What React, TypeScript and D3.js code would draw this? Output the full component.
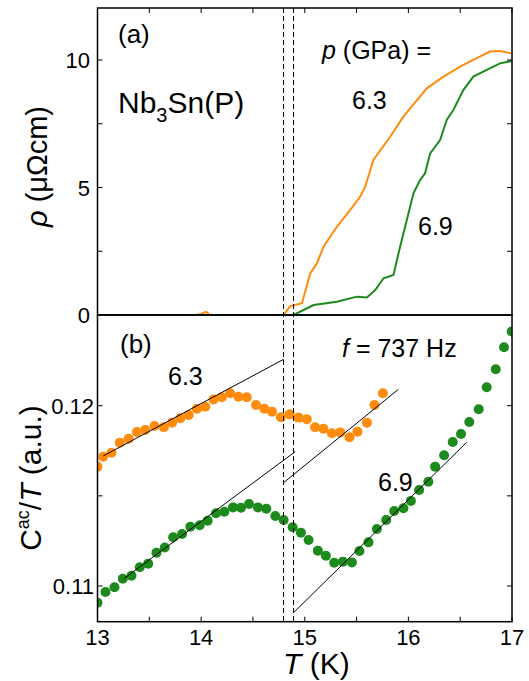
import React from "react";
import * as d3 from "d3";

// ---- data ----
const rhoT63 = [13.0, 13.95, 14.0, 14.04, 14.06, 14.08, 14.796, 14.86, 14.973, 15.053, 15.118, 15.181, 15.31, 15.439, 15.535, 15.583, 15.663, 15.824, 15.952, 16.178, 16.338, 16.499, 16.66, 16.788, 16.884, 16.997];
const rho63 = [0, 0, 0.04, 0.12, 0.1, 0, 0, 0.35, 0.46, 1.63, 2.03, 2.68, 3.46, 4.12, 4.64, 5.03, 6.08, 6.99, 7.78, 8.89, 9.35, 9.74, 10.07, 10.33, 10.35, 10.26];
const rhoT69 = [13.0, 14.892, 15.085, 15.31, 15.503, 15.6, 15.68, 15.76, 15.856, 15.92, 15.985, 16.049, 16.113, 16.161, 16.21, 16.306, 16.37, 16.434, 16.53, 16.627, 16.756, 16.884, 16.997];
const rho69 = [0, 0, 0.39, 0.52, 0.72, 0.69, 0.98, 1.44, 1.57, 2.68, 3.73, 4.77, 5.29, 5.56, 6.34, 6.86, 7.65, 8.04, 8.82, 9.35, 9.61, 9.87, 9.96];

const cT63 = [13.0, 13.055, 13.135, 13.215, 13.3, 13.38, 13.46, 13.55, 13.64, 13.72, 13.8, 13.88, 13.96, 14.04, 14.12, 14.2, 14.28, 14.36, 14.44, 14.53, 14.61, 14.684, 14.77, 14.854, 14.94, 15.02, 15.1, 15.18, 15.262, 15.342, 15.432, 15.509, 15.6, 15.673, 15.754];
const c63 = [0.11662, 0.11717, 0.11739, 0.11795, 0.11817, 0.11854, 0.11865, 0.11887, 0.1188, 0.11906, 0.1193, 0.11948, 0.11983, 0.11994, 0.12035, 0.12047, 0.12069, 0.1205, 0.12047, 0.12004, 0.11983, 0.11967, 0.11936, 0.11952, 0.11934, 0.11925, 0.1188, 0.11872, 0.11847, 0.11852, 0.11825, 0.11856, 0.11906, 0.12004, 0.12069];
const cT69 = [13.0, 13.077, 13.164, 13.244, 13.328, 13.408, 13.489, 13.569, 13.649, 13.73, 13.816, 13.896, 13.986, 14.063, 14.144, 14.224, 14.308, 14.385, 14.462, 14.549, 14.629, 14.716, 14.796, 14.883, 14.963, 15.037, 15.127, 15.204, 15.284, 15.368, 15.455, 15.528, 15.615, 15.696, 15.786, 15.863, 15.952, 16.024, 16.104, 16.193, 16.258, 16.345, 16.428, 16.508, 16.588, 16.679, 16.756, 16.843, 16.923, 16.997];
const c69 = [0.10907, 0.10967, 0.10993, 0.1104, 0.11057, 0.11104, 0.11124, 0.11185, 0.11214, 0.1127, 0.11288, 0.11329, 0.11337, 0.11362, 0.11403, 0.11412, 0.11436, 0.11434, 0.11455, 0.11436, 0.11429, 0.11388, 0.11366, 0.11326, 0.11296, 0.11255, 0.11196, 0.11168, 0.11129, 0.11135, 0.11131, 0.11194, 0.11242, 0.11316, 0.11366, 0.11416, 0.11431, 0.11472, 0.11532, 0.11578, 0.11662, 0.11725, 0.11799, 0.11843, 0.1191, 0.1198, 0.12102, 0.12202, 0.12324, 0.12411];

// fit lines: [T1, C1, T2, C2]
const fitOrange1 = [13.055, 0.11721, 14.796, 0.12257];
const fitOrange2 = [14.796, 0.11573, 15.904, 0.12091];
const fitGreen1 = [13.26, 0.11043, 14.908, 0.11745];
const fitGreen2 = [14.892, 0.10852, 16.563, 0.11797];
const fits = [fitOrange1, fitOrange2, fitGreen1, fitGreen2];

const dashedT = [14.795, 14.892];

const xTicksMajor = [13, 14, 15, 16, 17];
const xTicksMinor = [13.5, 14.5, 15.5, 16.5];
const rhoTicksMajor = [0, 5, 10];
const rhoTicksMinor = [2.5, 7.5];
const cTicksMajor = [0.11, 0.12];
const cTicksMinor = [0.115];

const ORANGE = "#ff8c0c";
const GREEN = "#1c8a1c";
const FONT = "'Liberation Sans', Arial, sans-serif";

export default function App() {
  const L = 97.5, R = 512, T0 = 8, MID = 315, B = 621.7;
  const x = d3.scaleLinear().domain([13, 17]).range([L, R]);
  const yA = d3.scaleLinear().domain([0, 12.04]).range([MID, T0]);
  const yB = d3.scaleLinear().domain([0.10802, 0.12503]).range([B, MID]);

  const lineA = d3.line<[number, number]>().x((d) => x(d[0])).y((d) => yA(d[1]));
  const d63 = lineA(rhoT63.map((t, i) => [t, rho63[i]]));
  const d69 = lineA(rhoT69.map((t, i) => [t, rho69[i]]));

  const tk = 5;
  const allX = [...xTicksMajor, ...xTicksMinor];

  return (
    <svg width={529} height={681} style={{ position: "absolute", left: 0, top: 0, background: "#fff" }} fontFamily={FONT}>
      <defs>
        <clipPath id="clipA"><rect x={L} y={T0} width={R - L} height={MID - T0} /></clipPath>
        <clipPath id="clipB"><rect x={L} y={MID} width={R - L} height={B - MID} /></clipPath>
      </defs>

      {/* panel a data */}
      <g clipPath="url(#clipA)">
        <path d={d63 || ""} fill="none" stroke={ORANGE} strokeWidth={2} />
        <path d={d69 || ""} fill="none" stroke={GREEN} strokeWidth={2} />
      </g>

      {/* panel b data */}
      <g clipPath="url(#clipB)">
        {cT63.map((t, i) => (
          <circle key={"o" + i} cx={x(t)} cy={yB(c63[i])} r={5} fill={ORANGE} />
        ))}
        {cT69.map((t, i) => (
          <circle key={"g" + i} cx={x(t)} cy={yB(c69[i])} r={5} fill={GREEN} />
        ))}
        {fits.map((f, i) => (
          <line key={"f" + i} x1={x(f[0])} y1={yB(f[1])} x2={x(f[2])} y2={yB(f[3])} stroke="#000" strokeWidth={1} />
        ))}
      </g>

      {/* dashed lines */}
      {dashedT.map((t, i) => (
        <line key={"d" + i} x1={x(t)} x2={x(t)} y1={T0} y2={B} stroke="#000" strokeWidth={1} strokeDasharray="5,3" />
      ))}

      {/* frames */}
      <rect x={L} y={T0} width={R - L} height={MID - T0} fill="none" stroke="#000" strokeWidth={1.5} />
      <rect x={L} y={MID} width={R - L} height={B - MID} fill="none" stroke="#000" strokeWidth={1.5} />

      {/* x ticks */}
      {allX.map((t, i) => (
        <g key={"xt" + i}>
          <line x1={x(t)} x2={x(t)} y1={T0} y2={T0 + tk} stroke="#000" strokeWidth={1} />
          <line x1={x(t)} x2={x(t)} y1={B} y2={B - tk} stroke="#000" strokeWidth={1} />
        </g>
      ))}
      {xTicksMajor.map((t, i) => (
        <text key={"xl" + i} x={x(t)} y={645} fontSize={22} textAnchor="middle">{t}</text>
      ))}

      {/* y ticks panel a */}
      {[...rhoTicksMajor, ...rhoTicksMinor].map((v, i) => (
        <g key={"ya" + i}>
          <line x1={L} x2={L + tk} y1={yA(v)} y2={yA(v)} stroke="#000" strokeWidth={1} />
          <line x1={R} x2={R - tk} y1={yA(v)} y2={yA(v)} stroke="#000" strokeWidth={1} />
        </g>
      ))}
      {rhoTicksMajor.map((v, i) => (
        <text key={"yal" + i} x={90} y={yA(v) + 8} fontSize={22} textAnchor="end">{v}</text>
      ))}

      {/* y ticks panel b */}
      {[...cTicksMajor, ...cTicksMinor].map((v, i) => (
        <g key={"yb" + i}>
          <line x1={L} x2={L + tk} y1={yB(v)} y2={yB(v)} stroke="#000" strokeWidth={1} />
          <line x1={R} x2={R - tk} y1={yB(v)} y2={yB(v)} stroke="#000" strokeWidth={1} />
        </g>
      ))}
      {cTicksMajor.map((v, i) => (
        <text key={"ybl" + i} x={94} y={yB(v) + 8} fontSize={22} textAnchor="end">{v.toFixed(2)}</text>
      ))}

      {/* axis titles */}
      <text transform="translate(46.5,166.5) rotate(-90)" fontSize={29} textAnchor="middle">
        <tspan fontStyle="italic">ρ</tspan> (μΩcm)
      </text>
      <text transform="translate(40.5,478) rotate(-90)" fontSize={30} textAnchor="middle">
        C<tspan fontSize={18} dy={-12}>ac</tspan><tspan dy={12}>/</tspan><tspan fontStyle="italic">T</tspan> (a.u.)
      </text>
      <text x={283} y={674} fontSize={30}>
        <tspan fontStyle="italic">T</tspan> (K)
      </text>

      {/* annotations */}
      <text x={118} y={43} fontSize={26}>(a)</text>
      <text x={118} y={113} fontSize={30}>
        Nb<tspan fontSize={20} dy={9}>3</tspan><tspan dy={-9}>Sn(P)</tspan>
      </text>
      <text x={322} y={59} fontSize={25}>
        <tspan fontStyle="italic">p</tspan> (GPa) =
      </text>
      <text x={352} y={109} fontSize={25}>6.3</text>
      <text x={418} y={235} fontSize={25}>6.9</text>

      <text x={120} y={353} fontSize={26}>(b)</text>
      <text x={168} y={385} fontSize={25}>6.3</text>
      <text x={342} y={357} fontSize={25}>
        <tspan fontStyle="italic">f</tspan> = 737 Hz
      </text>
      <text x={378} y={491} fontSize={25}>6.9</text>
    </svg>
  );
}
